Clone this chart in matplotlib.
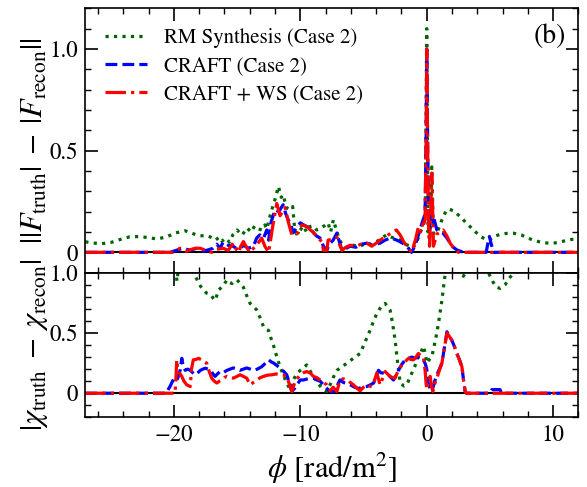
import numpy as np
import matplotlib.pyplot as plt
from matplotlib.ticker import MultipleLocator

plt.rcParams['font.family'] = ['STIXGeneral', 'DejaVu Serif']
plt.rcParams['mathtext.fontset'] = 'stix'

# ---- amplitude residuals ||F_truth| - |F_recon|| ----
rm_amp_phi = [-27, -26.5, -25.8, -25.0, -24.2, -23.5, -22.7, -22.0, -21.35, -20.6, -19.9, -19.1,
              -18.5, -17.9, -17.4, -16.9, -16.7, -16.4, -16.2, -15.9, -15.6, -15.3, -15.0, -14.6,
              -14.2, -13.9, -13.6, -13.3, -13.05, -12.8, -12.65, -12.3, -12.0, -11.73, -11.5,
              -11.35, -11.1, -10.8, -10.6, -10.45, -10.3, -10.0, -9.77, -9.5, -9.22, -8.98, -8.7,
              -8.43, -8.1, -7.8, -7.6, -7.38, -7.2, -7.0, -6.8, -6.59, -6.2, -5.8, -5.27, -4.8,
              -4.4, -3.95, -3.6, -3.16, -2.8, -2.4, -2.1, -1.7, -1.3, -1.07, -0.8, -0.52, -0.3,
              -0.12, 0.0, 0.1, 0.2, 0.3, 0.4, 0.53, 0.7, 0.9, 1.2, 1.5, 1.72, 2.1, 2.64, 3.2, 3.7,
              4.2, 4.76, 5.0, 5.28, 5.8, 6.3, 6.86, 7.5, 8.0, 8.44, 9.0, 9.5, 10.0, 10.5, 11.0,
              11.5, 12.0]
rm_amp = [0.052, 0.047, 0.042, 0.048, 0.064, 0.076, 0.078, 0.072, 0.066, 0.075, 0.095, 0.106,
          0.092, 0.081, 0.083, 0.07, 0.06, 0.075, 0.055, 0.07, 0.05, 0.09, 0.11, 0.085,
          0.12, 0.1, 0.13, 0.115, 0.11, 0.135, 0.115, 0.2, 0.26, 0.324, 0.27,
          0.283, 0.22, 0.21, 0.225, 0.12, 0.09, 0.11, 0.13, 0.1, 0.127, 0.13, 0.11,
          0.12, 0.13, 0.145, 0.1, 0.16, 0.12, 0.08, 0.05, 0.03, 0.02, 0.035, 0.03, 0.045,
          0.04, 0.053, 0.07, 0.086, 0.075, 0.065, 0.06, 0.04, 0.03, 0.022, 0.05, 0.096, 0.13,
          0.16, 1.10, 0.1, 0.15, 0.12, 0.42, 0.094, 0.09, 0.11, 0.16, 0.2, 0.213, 0.205, 0.176,
          0.14, 0.11, 0.08, 0.06, 0.063, 0.078, 0.088, 0.093, 0.094, 0.085, 0.07, 0.06, 0.05,
          0.046, 0.045, 0.05, 0.058, 0.064, 0.065]

craft_amp_phi = [-27, -20.3, -19.8, -19.3, -18.7, -18.2, -17.7, -17.3, -16.9, -16.6, -16.35, -16.1,
                 -15.7, -15.3, -14.9, -14.5, -14.1, -13.7, -13.45, -13.2, -12.9, -12.65, -12.5,
                 -12.3, -11.99, -11.7, -11.36, -11.15, -10.96, -10.75, -10.57, -10.3, -10.0, -9.6,
                 -9.22, -8.96, -8.7, -8.43, -8.17, -7.9, -7.7, -7.4, -7.1, -6.9, -6.7, -6.4, -6.05,
                 -5.6, -5.2, -4.74, -4.3, -3.69, -3.3, -2.9, -2.6, -2.36, -1.9, -1.57, -1.2, -0.95,
                 -0.78, -0.55, -0.39, -0.13, -0.04, 0.0, 0.08, 0.15, 0.22, 0.35, 0.45, 0.53, 0.8,
                 1.05, 1.3, 1.6, 1.85, 2.1, 2.38, 2.9, 4.7, 4.85, 4.96, 5.1, 5.3, 12]
craft_amp = [0, 0, 0.01, 0.02, 0.01, 0.02, 0.005, 0.012, 0.02, 0.04, 0.02, 0.05,
             0.035, 0.03, 0.01, 0.035, 0.02, 0.03, 0.07, 0.086, 0.07, 0.11, 0.06,
             0.15, 0.21, 0.2, 0.234, 0.19, 0.16, 0.14, 0.096, 0.12, 0.145, 0.13,
             0.12, 0.096, 0.08, 0.07, 0.03, 0.01, 0.04, 0.06, 0.095, 0.05, 0.01, 0.02, 0.03,
             0.025, 0.04, 0.045, 0.035, 0.045, 0.06, 0.07, 0.065, 0.06, 0.045, 0.03, 0.0, 0.03,
             0.06, 0.11, 0.14, 0.19, 0.6, 1.0, 0.5, 0.2, 0.127, 0.2, 0.15, 0.176, 0.11,
             0.1, 0.094, 0.07, 0.045, 0.025, 0.012, 0.0, 0.0, 0.05, 0.078, 0.04, 0.0, 0]

ws_amp_phi = [-27, -20.1, -19.8, -19.5, -19.0, -18.6, -18.3, -17.9, -17.5, -17.0, -16.6, -16.1,
              -15.7, -15.3, -15.1, -14.9, -14.7, -14.5, -14.2, -13.97, -13.7, -13.44, -13.05,
              -12.8, -12.5, -12.2, -11.86, -11.6, -11.4, -11.2, -10.95, -10.67, -10.4, -10.17,
              -9.88, -9.48, -9.2, -8.98, -8.6, -8.3, -8.17, -7.9, -7.8, -7.4, -7.1, -6.9, -6.7,
              -6.4, -6.05, -5.6, -5.2, -4.74, -4.35, -4.0, -3.69, -3.2, -2.8, -2.4, -2.1, -1.8,
              -1.57, -1.2, -0.9, -0.65, -0.5, -0.39, -0.13, -0.04, 0.0, 0.08, 0.15, 0.22, 0.32,
              0.4, 0.47, 0.53, 0.8, 1.05, 1.3, 1.6, 1.85, 2.2, 2.5, 12]
ws_amp = [0, 0, 0.01, 0.02, 0.005, 0.015, 0.02, 0.02, 0.01, 0.0, 0.015, 0.02,
          0.01, 0.046, 0.02, 0.0, 0.03, 0.053, 0.02, 0.0, 0.02, 0.037, 0.07,
          0.03, 0.0, 0.12, 0.24, 0.18, 0.2, 0.22, 0.15, 0.086, 0.09, 0.095,
          0.135, 0.127, 0.11, 0.1, 0.07, 0.053, 0.01, 0.01, 0.06, 0.065, 0.075, 0.04, 0.01,
          0.025, 0.035, 0.03, 0.04, 0.045, 0.03, 0.045, 0.06, 0.08, 0.095, 0.11, 0.085, 0.05,
          0.03, 0.0, 0.06, 0.127, 0.1, 0.127, 0.16, 0.6, 1.0, 0.45, 0.1, 0.03, 0.2,
          0.39, 0.2, 0.03, 0.09, 0.1, 0.11, 0.08, 0.045, 0.015, 0.0, 0]

# ---- angle residuals |chi_truth - chi_recon| ----
rm_chi_phi = [-27, -20.0, -19.85, -19.75, -19.65, -19.5, -18.8, -18.46, -18.2, -17.9, -17.66, -17.4,
              -17.1, -16.9, -16.74, -16.6, -16.48, -16.1, -15.8, -15.6, -15.4, -15.2, -15.0,
              -14.75, -14.5, -14.2, -13.97, -13.7, -13.44, -13.15, -12.9, -12.7, -12.5, -12.3,
              -12.1, -11.85, -11.6, -11.3, -11.07, -10.8, -10.65, -10.55, -10.3, -10.0, -9.75,
              -9.5, -9.25, -8.96, -8.7, -8.43, -8.17, -7.9, -7.6, -7.35, -7.1, -6.7, -6.3, -5.8,
              -5.27, -4.9, -4.47, -4.2, -3.95, -3.6, -3.29, -3.1, -2.9, -2.7, -2.5, -2.3, -2.1,
              -1.8, -1.57, -1.38, -1.18, -0.95, -0.78, -0.5, -0.26, -0.1, 0.01, 0.2, 0.4, 0.6,
              0.8, 1.0, 1.2, 1.35, 1.46, 1.7, 2.3, 2.75, 2.9, 3.05, 3.5, 4.3, 4.88, 5.2, 5.5,
              5.8, 6.2, 6.5, 6.73, 7.0, 8.0, 12]
rm_chi = [1.3, 1.2, 1.02, 0.93, 1.02, 1.15, 1.1, 1.0, 0.95, 0.89, 0.855, 0.83,
          0.82, 0.79, 0.77, 0.81, 0.855, 0.89, 0.94, 0.92, 0.91, 0.93, 0.94,
          0.91, 0.88, 0.8, 0.745, 0.72, 0.69, 0.62, 0.55, 0.53, 0.52, 0.45,
          0.39, 0.3, 0.22, 0.14, 0.085, 0.03, 0.08, 0.11, 0.16, 0.19, 0.21,
          0.235, 0.19, 0.14, 0.1, 0.06, 0.03, 0.015, 0.08, 0.14, 0.19, 0.22, 0.25, 0.29,
          0.33, 0.42, 0.525, 0.6, 0.66, 0.72, 0.745, 0.72, 0.69, 0.58, 0.44, 0.25, 0.085,
          0.06, 0.07, 0.12, 0.167, 0.22, 0.28, 0.33, 0.39, 0.32, 0.25, 0.28, 0.30, 0.4,
          0.50, 0.63, 0.77, 0.9, 0.99, 1.15, 1.1, 1.0, 0.97, 1.0, 1.15, 1.1, 1.0, 0.93, 0.88,
          0.87, 0.9, 0.95, 0.98, 1.05, 1.2, 1.3]

craft_chi_phi = [-27, -20.6, -20.45, -20.3, -20.1, -19.9, -19.7, -19.5, -19.37, -19.25, -19.1, -18.9,
                 -18.7, -18.5, -18.3, -18.1, -17.9, -17.7, -17.5, -17.3, -17.1, -16.9, -16.74,
                 -16.55, -16.35, -16.1, -15.8, -15.55, -15.3, -15.0, -14.76, -14.5, -14.23, -13.95,
                 -13.7, -13.4, -13.05, -12.75, -12.5, -12.3, -12.1, -11.85, -11.6, -11.3, -11.07,
                 -10.85, -10.67, -10.45, -10.27, -10.0, -9.75, -9.4, -8.96, -8.7, -8.43, -8.17, -7.9,
                 -7.64, -7.25, -7.05, -6.86, -6.6, -6.3, -6.05, -5.7, -5.4, -5.05, -4.74, -4.45,
                 -4.2, -4.0, -3.82, -3.63, -3.43, -3.23, -3.03, -2.83, -2.63, -2.43, -2.24, -1.97,
                 -1.7, -1.44, -1.18, -0.92, -0.66, -0.46, -0.26, -0.1, 0.0, 0.07, 0.14, 0.27, 0.4,
                 0.53, 0.66, 0.8, 1.0, 1.2, 1.4, 1.6, 1.8, 1.98, 2.18, 2.38, 2.58, 2.78, 2.92,
                 3.04, 3.15, 5.0, 5.15, 5.8, 5.9, 12]
craft_chi = [0, 0, 0.03, 0.056, 0.1, 0.14, 0.12, 0.19, 0.29, 0.22, 0.19, 0.2,
             0.19, 0.17, 0.153, 0.17, 0.19, 0.2, 0.208, 0.2, 0.19, 0.16, 0.14,
             0.16, 0.18, 0.17, 0.19, 0.2, 0.21, 0.2, 0.19, 0.2, 0.21, 0.2,
             0.19, 0.2, 0.22, 0.25, 0.277, 0.26, 0.25, 0.23, 0.208, 0.18, 0.153,
             0.08, 0.015, 0.04, 0.07, 0.11, 0.11, 0.12, 0.125, 0.11, 0.1, 0.07, 0.04,
             0.015, 0.015, 0.07, 0.11, 0.09, 0.08, 0.07, 0.05, 0.04, 0.05, 0.056, 0.07,
             0.085, 0.14, 0.19, 0.17, 0.167, 0.16, 0.153, 0.13, 0.11, 0.15, 0.19, 0.24,
             0.277, 0.29, 0.30, 0.29, 0.30, 0.29, 0.277, 0.24, 0.2, 0.13, 0.07, 0.04, 0.015,
             0.06, 0.11, 0.153, 0.2, 0.25, 0.38, 0.51, 0.47, 0.44, 0.39, 0.33, 0.28, 0.22, 0.1,
             0.015, 0, 0, 0.03, 0.03, 0, 0]

ws_chi_phi = [-27, -19.9, -19.82, -19.77, -19.7, -19.65, -19.5, -19.37, -19.2, -18.98, -18.7, -18.6,
              -18.46, -18.25, -18.06, -17.8, -17.6, -17.4, -17.2, -17.0, -16.8, -16.6, -16.4,
              -16.2, -16.0, -15.8, -15.55, -15.3, -15.0, -14.76, -14.5, -14.23, -13.97, -13.7,
              -13.44, -13.15, -12.9, -12.6, -12.25, -11.9, -11.6, -11.3, -11.07, -10.85, -10.67,
              -10.4, -10.0, -9.75, -9.5, -9.2, -8.96, -8.7, -8.43, -8.17, -7.9, -7.64, -7.4,
              -7.25, -7.1, -6.86, -6.6, -6.3, -6.05, -5.8, -5.5, -5.27, -5.0, -4.74, -4.55,
              -4.35, -4.15, -3.95, -3.82, -3.69, -3.5, -3.29, -3.1, -2.9, -2.7, -2.5, -2.37,
              -2.24, -2.05, -1.84, -1.64, -1.44, -1.25, -1.05, -0.85, -0.66, -0.46, -0.26, -0.13,
              -0.05, 0.0, 0.13, 0.27, 0.38, 0.48, 0.64, 0.8, 1.0, 1.2, 1.4, 1.6, 1.8, 1.98, 2.18,
              2.38, 2.58, 2.78, 2.92, 3.04, 3.15, 12]
ws_chi = [0, 0, 0.15, 0.277, 0.2, 0.19, 0.16, 0.14, 0.1, 0.07, 0.056, 0.2,
          0.277, 0.28, 0.29, 0.277, 0.26, 0.25, 0.18, 0.125, 0.1, 0.085, 0.1,
          0.11, 0.13, 0.14, 0.13, 0.125, 0.14, 0.153, 0.14, 0.125, 0.07, 0.09,
          0.11, 0.13, 0.14, 0.15, 0.153, 0.16, 0.153, 0.15, 0.14, 0.07, 0.015,
          0.1, 0.153, 0.17, 0.18, 0.167, 0.14, 0.13, 0.11, 0.09, 0.07, 0.02, 0.05,
          0.03, 0.015, 0.11, 0.12, 0.11, 0.09, 0.07, 0.04, 0.02, 0.05, 0.07, 0.06,
          0.056, 0.1, 0.167, 0.12, 0.07, 0.12, 0.18, 0.16, 0.14, 0.13, 0.125, 0.16,
          0.19, 0.22, 0.25, 0.27, 0.29, 0.28, 0.277, 0.3, 0.33, 0.31, 0.30, 0.19,
          0.08, 0.03, 0.1, 0.14, 0.06, 0.015, 0.08, 0.125, 0.19, 0.25, 0.38, 0.50, 0.47, 0.44,
          0.39, 0.33, 0.28, 0.22, 0.1, 0.01, 0, 0]

labels = ['RM Synthesis (Case 2)', 'CRAFT (Case 2)', 'CRAFT + WS (Case 2)']
colors = ['darkgreen', 'blue', 'red']
styles = [':', '--', '-.']

fig = plt.figure(figsize=(5.87, 4.87), dpi=100)
gs = fig.add_gridspec(2, 1, height_ratios=[265, 145], hspace=0,
                      left=0.1453, right=0.9855, top=0.983, bottom=0.143)
ax1 = fig.add_subplot(gs[0])
ax2 = fig.add_subplot(gs[1], sharex=ax1)

lw = 2.3
for ax, series in [(ax1, [(rm_amp_phi, rm_amp), (craft_amp_phi, craft_amp), (ws_amp_phi, ws_amp)]),
                   (ax2, [(rm_chi_phi, rm_chi), (craft_chi_phi, craft_chi), (ws_chi_phi, ws_chi)])]:
    ax.axhline(0, color='k', lw=1.5, zorder=1)
    for (x, y), c, ls, lab in zip(series, colors, styles, labels):
        ax.plot(x, y, color=c, ls=ls, lw=lw, label=lab, zorder=2)
    ax.tick_params(which='both', direction='in', top=True, right=True, labelsize=16.5)
    ax.tick_params(which='major', length=9, width=1.2, pad=5)
    ax.tick_params(which='minor', length=4.5, width=1.0)
    ax.xaxis.set_major_locator(MultipleLocator(10))
    ax.xaxis.set_minor_locator(MultipleLocator(2))
    ax.yaxis.set_major_locator(MultipleLocator(0.5))
    ax.yaxis.set_minor_locator(MultipleLocator(0.1))
    ax.yaxis.set_major_formatter(plt.FuncFormatter(lambda v, p: '0' if abs(v) < 1e-9 else f'{v:.1f}'))
    for sp in ax.spines.values():
        sp.set_linewidth(1.2)

ax1.set_xlim(-27, 12)
ax1.set_ylim(-0.1, 1.2)
ax2.set_ylim(-0.2, 1.0)
ax1.tick_params(labelbottom=False)

ax1.set_ylabel(r'$||F_{\rm truth}|\;-\;|F_{\rm recon}||$', fontsize=22, labelpad=0)
ax2.set_ylabel(r'$|\chi_{\rm truth}\;-\;\chi_{\rm recon}|$', fontsize=22, labelpad=0)
ax2.set_xlabel(r'$\phi$ [rad/m$^2$]', fontsize=22, labelpad=4)
fig.align_ylabels([ax1, ax2])

ax1.legend(loc='upper left', frameon=False, fontsize=15, handlelength=2.0,
           handletextpad=0.85, labelspacing=0.4, borderaxespad=0.55)
ax1.text(0.975, 0.94, '(b)', transform=ax1.transAxes, ha='right', va='top', fontsize=20)

fig.savefig('out.png', dpi=100)
